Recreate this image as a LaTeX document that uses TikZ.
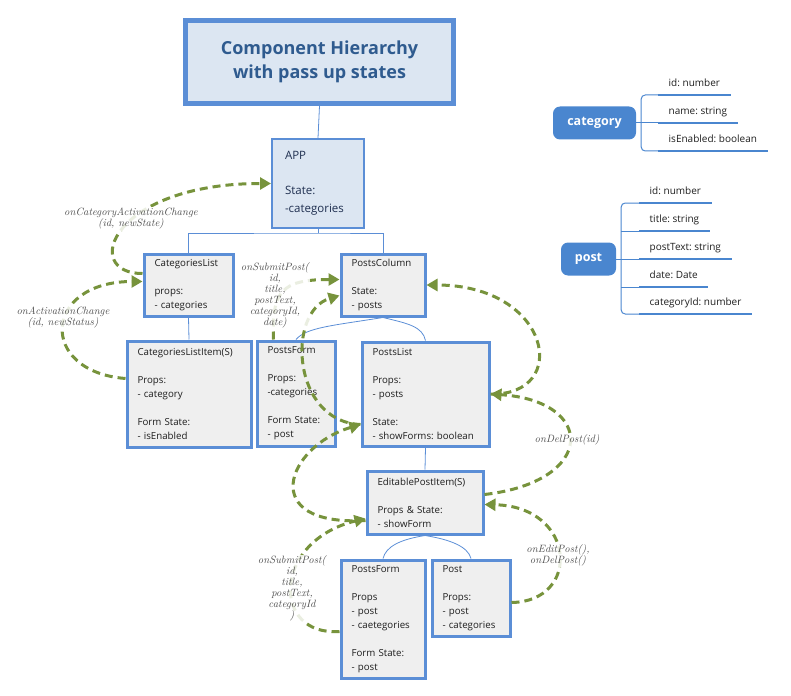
\documentclass[tikz,border=0pt]{standalone}
\usepackage{fontspec}
\setsansfont{Open Sans}
\usetikzlibrary{arrows.meta}
\frenchspacing
\definecolor{hierInk}{HTML}{1E1E1E}
\definecolor{hierNavy}{HTML}{1F2F50}
\definecolor{hierBlue}{HTML}{5B8ED6}
\definecolor{hierPale}{HTML}{DCE6F2}
\definecolor{hierGray}{HTML}{EFEFEF}
\definecolor{hierTitle}{HTML}{2F5B8F}
\definecolor{hierGreen}{HTML}{77933C}
\definecolor{hierNote}{HTML}{4F4F4F}
\definecolor{modelBlue}{HTML}{4A86CF}
\tikzset{
  every picture/.style={font=\sffamily\fontsize{10}{14}\selectfont, text=hierInk},
  comp title/.style={draw=hierBlue, line width=4.5pt, fill=hierPale, text=hierTitle,
    font=\sffamily\bfseries\fontsize{18}{24}\selectfont, align=center,
    anchor=north west, minimum width=268pt, minimum height=83pt},
  comp box/.style={draw=hierBlue, line width=3pt, fill=hierGray, anchor=north west,
    align=left, inner xsep=10.5pt, inner ysep=0pt,
    font=\sffamily\fontsize{9.7}{14}\selectfont},
  comp root/.style={comp box, line width=2pt, fill=hierPale, text=hierNavy,
    font=\sffamily\fontsize{11.5}{17.5}\selectfont, inner xsep=13pt},
  comp link/.style={draw=hierBlue, line width=0.8pt},
  comp pass/.style={-{Triangle[length=11pt,width=12pt]}, draw=hierGreen,
    line width=3pt, dash pattern=on 8pt off 5pt},
  comp note/.style={font=\rmfamily\itshape\fontsize{10.6}{11}\selectfont, text=hierNote,
    align=center, fill=white, fill opacity=0.85, text opacity=1, inner sep=1pt},
  model pill/.style={fill=modelBlue, text=white, rounded corners=7pt,
    font=\sffamily\bfseries\fontsize{12.5}{14}\selectfont, minimum height=33pt},
  model field/.style={anchor=south west, inner xsep=10.5pt, inner ysep=6pt,
    text height=7.5pt, text depth=2pt},
  model rule/.style={draw=modelBlue, line width=2.5pt},
  model brace/.style={draw=modelBlue, line width=1pt, rounded corners=4pt}
}
\begin{document}
\begin{tikzpicture}[x=1pt,y=-1pt]
  \useasboundingbox (0,0) rectangle (791,695);
  \node[comp title] (title) at (183.25,18.25) {Component Hierarchy\\with pass up states};
  \node[comp root, text width=66pt, minimum height=89pt] (app) at (271,138) {APP\\[17.5pt]State:\\-categories};
  \node[comp box, text width=68pt, minimum height=62pt] (catlist) at (142.5,252.5) {CategoriesList\\[14pt]props:\\- categories};
  \node[comp box, text width=63pt, minimum height=62pt] (postscol) at (339.5,252.5) {PostsColumn\\[14pt]State:\\- posts};
  \node[comp box, text width=103pt, minimum height=106pt] (catitem) at (125.5,339.5) {CategoriesListItem(S)\\[14pt]Props:\\- category\\[14pt]Form State:\\- isEnabled};
  \node[comp box, text width=57pt, minimum height=105pt] (formA) at (255.5,339.5) {PostsForm\\[14pt]Props:\\-categories\\[14pt]Form State:\\- post};
  \node[comp box, text width=106pt, minimum height=104pt] (postslist) at (360.5,340.5) {PostsList\\[14pt]Props:\\- posts\\[14pt]State:\\\mbox{- showForms: boolean}};
  \node[comp box, text width=95pt, minimum height=63pt] (editable) at (365.5,469.5) {EditablePostItem(S)\\[14pt]Props \& State:\\- showForm};
  \node[comp box, text width=63pt, minimum height=118pt] (formB) at (339.5,558.5) {PostsForm\\[14pt]Props\\- post\\- caetegories\\[14pt]Form State:\\- post};
  \node[comp box, text width=57pt, minimum height=76pt] (post) at (430.5,558.5) {Post\\[14pt]Props:\\- post\\- categories};

  \draw[comp link] (title.south) -- (app.north);
  \draw[comp link] (app.south) -- ++(0,4) coordinate (hub);
  \draw[comp link] (catlist.north) |- (hub) -| (postscol.north);
  \draw[comp link] (catlist.south) -- (catitem.north);
  \draw[comp link] (postscol.south) .. controls +(-50,8) and +(10,-12) .. (formA.north);
  \draw[comp link] (postscol.south) .. controls +(25,6) and +(-3,-14) .. (postslist.north);
  \draw[comp link] (postslist.south) -- (editable.north);
  \draw[comp link] (editable.south) .. controls +(-25,4) and +(3,-12) .. (formB.north);
  \draw[comp link] (editable.south) .. controls +(25,4) and +(-3,-12) .. (post.north);

  \draw[comp pass] ([yshift=11.5pt]catlist.west) .. controls +(-62,0) and +(-160,0) .. (app.west);
  \draw[comp pass] ([yshift=15.5pt]catitem.west) .. controls +(-88,-7) and +(-100,0) .. ([yshift=3.5pt]catlist.west);
  \draw[comp pass] ([xshift=-22.5pt]formA.north) .. controls +(-2,-48) and +(-58,0) .. ([yshift=5.5pt]postscol.west);
  \draw[comp pass] ([yshift=-30.5pt]postslist.west) .. controls +(-69,-3) and +(-53,16) .. ([yshift=-10.5pt]postscol.west);
  \draw[comp pass] ([yshift=-18pt]editable.west) .. controls +(-109,6) and +(-74,22) .. ([yshift=-30.5pt]postslist.west);
  \draw[comp pass] ([yshift=-12.5pt]formB.west) .. controls +(-68,5) and +(-94,23) .. ([yshift=-16pt]editable.west);
  \draw[comp pass] (postslist.east) .. controls +(81,2) and +(125,0) .. (postscol.east);
  \draw[comp pass] ([yshift=8pt]editable.east) .. controls +(112,-13) and +(106,7) .. (postslist.east);
  \draw[comp pass] ([yshift=-4.5pt]post.east) .. controls +(70,-1) and +(92,2) .. ([yshift=-2pt]editable.east);

  \node[comp note] (noteA) at (131,219) {onCategoryActivationChange\\(id, newState)};
  \node[comp note] (noteB) at (63,318) {onActivationChange\\(id, newStatus)};
  \node[comp note] (noteC) at (275,295.5) {onSubmitPost(\\id,\\title,\\postText,\\categoryId,\\date)};
  \node[comp note] (noteD) at (292,588.5) {onSubmitPost(\\id,\\title,\\postText,\\categoryId\\)};
  \node[comp note] (noteE) at (567,440) {onDelPost(id)};
  \node[comp note] (noteF) at (558,555.5) {onEditPost(),\\onDelPost()};

  \node[model pill, minimum width=83pt] (cat) at (594.5,123) {category};
  \node[model field] (cid) at (658,95) {id: number};
  \node[model field] (cname) at (658,123) {name: string};
  \node[model field] (cflag) at (658,151) {isEnabled: boolean};
  \coordinate (catfork) at ([xshift=5pt]cat.east);
  \draw[model brace] (cid.south west) -| (catfork) |- (cflag.south west);
  \draw[model brace] (cat.east) -- (cname.south west);

  \node[model pill, minimum width=55pt] (pst) at (588.5,259) {post};
  \node[model field] (pid) at (639,203) {id: number};
  \node[model field] (ptitle) at (639,231) {title: string};
  \node[model field] (ptext) at (639,259) {postText: string};
  \node[model field] (pdate) at (639,287) {date: Date};
  \node[model field] (pcat) at (639,314) {categoryId: number};
  \coordinate (pstfork) at ([xshift=5pt]pst.east);
  \draw[model brace] (pid.south west) -| (pstfork) |- (pcat.south west);
  \draw[model brace] (pst.east) -- (ptext.south west);
  \draw[model brace] (ptitle.south west) -- (ptitle.south west -| pstfork);
  \draw[model brace] (pdate.south west) -- (pdate.south west -| pstfork);

  \foreach \f in {cid,cname,cflag,pid,ptitle,ptext,pdate,pcat}
    \draw[model rule] (\f.south west) -- (\f.south east);
\end{tikzpicture}
\end{document}
